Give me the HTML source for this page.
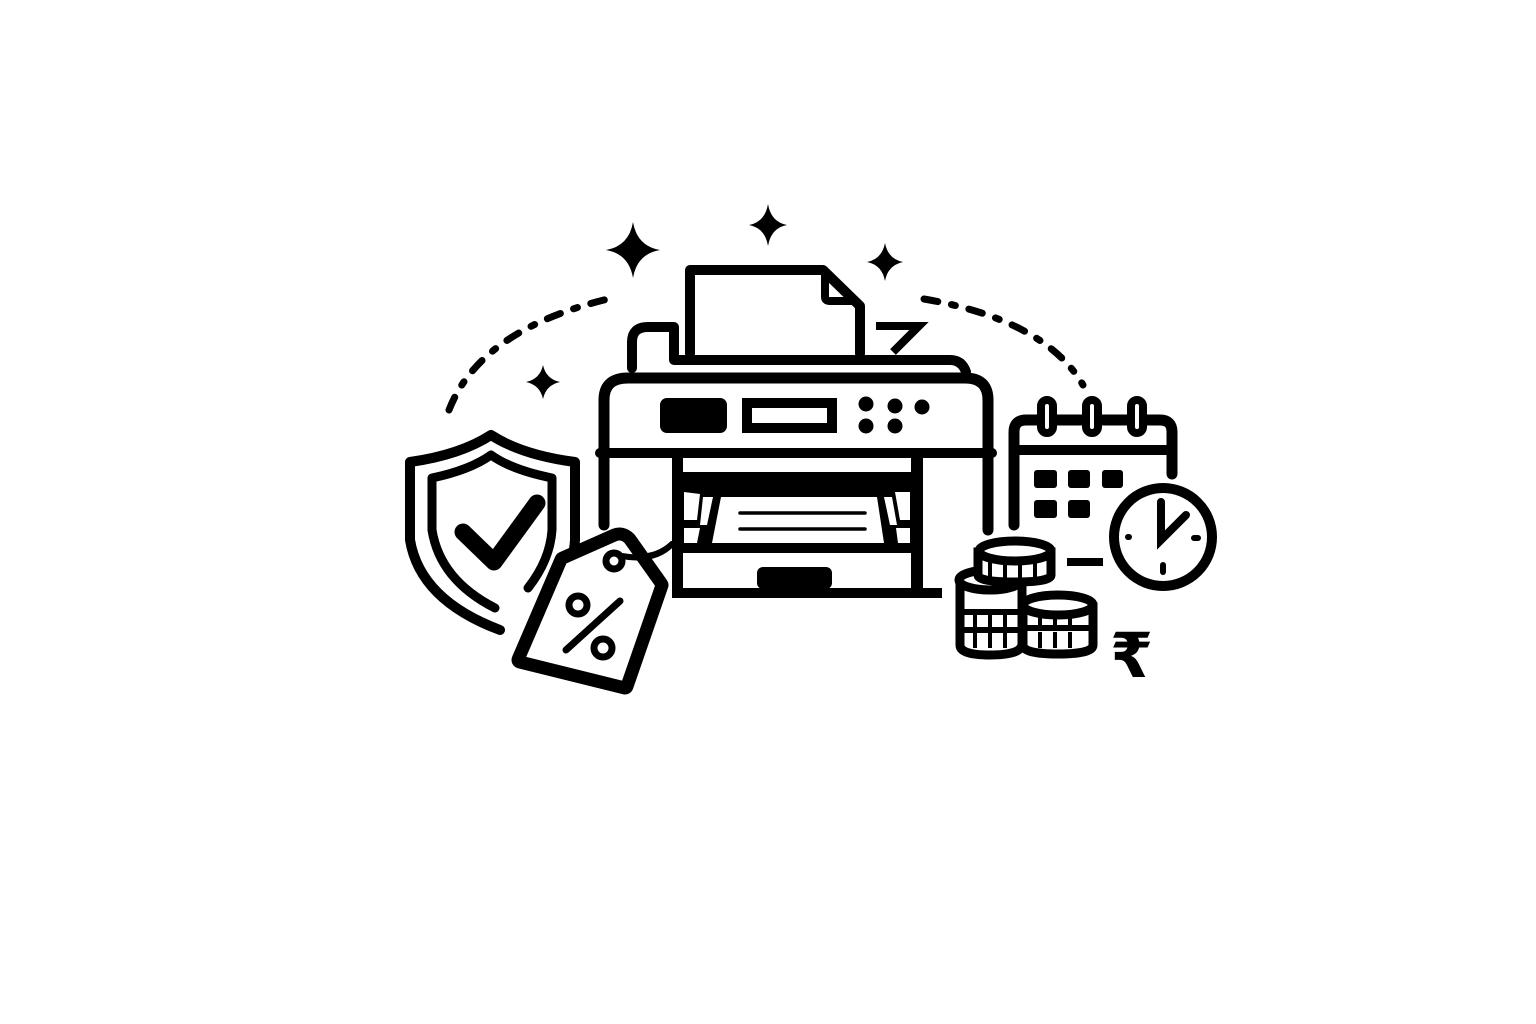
<!DOCTYPE html>
<html><head><meta charset="utf-8"><style>html,body{margin:0;padding:0;background:#fff}svg{display:block}</style></head>
<body>
<svg width="1536" height="1024" viewBox="0 0 1536 1024" xmlns="http://www.w3.org/2000/svg">
<rect width="1536" height="1024" fill="#fff"/>
<g fill="none" stroke="#000" stroke-linecap="round" stroke-linejoin="round">
<path d="M449 410 Q480 330 608 299" stroke-width="7" stroke-dasharray="14 14 4 14"/>
<path d="M924 299 Q1045 320 1083 385" stroke-width="7" stroke-dasharray="14 14 4 14"/>
<path d="M690 354 V270 H823 L860 306 V354" stroke-width="10"/>
<path d="M825 272 V297 Q825 301 830 301 H855" stroke-width="8"/>
<path d="M876 326 H919 L893 352" stroke-width="8" stroke-linejoin="miter" stroke-linecap="butt"/>
<path d="M632 368 V342 Q632 327 648 327 H674 V360 H950 Q962 360 966 372" stroke-width="10"/>
<path d="M604 525 V400 Q604 378 628 378 H965 Q988 378 988 400 V530" stroke-width="11"/>
<line x1="600" y1="453" x2="992" y2="453" stroke-width="10"/>
</g>
<rect x="660" y="398" width="67" height="35" rx="7" fill="#000"/>
<rect x="747" y="403" width="85" height="25" fill="none" stroke="#000" stroke-width="10"/>
<g fill="#000">
<circle cx="866" cy="404" r="7.5"/><circle cx="895" cy="406" r="7.5"/><circle cx="922" cy="407" r="7.5"/>
<circle cx="866" cy="426" r="7.5"/><circle cx="895" cy="426" r="7.5"/>
<rect x="672" y="458" width="11" height="140"/>
<rect x="911" y="458" width="12" height="140"/>
<rect x="672" y="588" width="270" height="10"/>
<rect x="683" y="472" width="228" height="81"/>
<rect x="757" y="567" width="75" height="22" rx="6"/>
</g>
<polygon points="721,497 877,497 884,543 712,543" fill="#fff"/>
<polygon points="684,492 700,494 697,520 684,520" fill="#fff"/>
<polygon points="703,497 713,497 707,525 700,525" fill="#fff"/>
<polygon points="884,497 892,497 897,525 890,525" fill="#fff"/>
<polygon points="895,492 910,492 910,520 900,520" fill="#fff"/>
<polygon points="684,528 700,528 697,543 684,543" fill="#fff"/>
<polygon points="896,528 910,528 910,543 898,543" fill="#fff"/>
<g stroke="#000" stroke-width="3.5" stroke-linecap="round"><line x1="740" y1="513" x2="865" y2="513"/><line x1="740" y1="529" x2="865" y2="529"/></g>
<g fill="#000">
<path d="M633 222 Q637 246 660 250 Q637 254 633 278 Q629 254 606 250 Q629 246 633 222Z"/>
<path d="M768 204 Q771 222 787 225 Q771 228 768 246 Q765 228 749 225 Q765 222 768 204Z"/>
<path d="M885 243 Q888 259 903 262 Q888 265 885 281 Q882 265 867 262 Q882 259 885 243Z"/>
<path d="M543 365 Q546 379 560 382 Q546 385 543 399 Q540 385 526 382 Q540 379 543 365Z"/>
</g>
<g fill="none" stroke="#000" stroke-linecap="round" stroke-linejoin="round">
<path d="M500 630 Q420 600 410 540 V462 Q460 455 491 435 Q522 455 575 462 V540 Q572 585 540 612" stroke-width="10"/>
<path d="M495 608 Q440 580 432 530 V478 Q470 470 491 455 Q512 470 552 478 V530 Q550 560 528 588" stroke-width="9"/>
<path d="M463 532 L494 562 L537 503" stroke-width="17"/>
<path d="M627 556 Q655 560 672 544" stroke-width="6"/>
</g>
<path d="M520 660 L625 686 L660 585 L628 540 Q622 534 615 537 L563 560 Z" fill="#fff" stroke="#000" stroke-width="17" stroke-linejoin="round"/>
<path d="M520 660 L625 686 L660 585 L628 540 Q622 534 615 537 L563 560 Z" fill="#fff" stroke="#000" stroke-width="9" stroke-linejoin="round"/>
<g fill="none" stroke="#000" stroke-linecap="round" stroke-linejoin="round">
<path d="M520 660 L625 686 L660 585 L628 540 Q622 534 615 537 L563 560 Z" stroke="#fff" stroke-width="0"/>
<circle cx="614" cy="561" r="8" stroke-width="7"/>
<path d="M622 556 Q655 562 672 544" stroke-width="6"/>
<circle cx="578" cy="605" r="9" stroke-width="7"/>
<circle cx="603" cy="648" r="9" stroke-width="7"/>
<line x1="566" y1="650" x2="620" y2="601" stroke-width="7"/>
<path d="M1014 525 V432 Q1014 420 1026 420 H1160 Q1172 420 1172 432 V474" stroke-width="11"/>
<line x1="1014" y1="450" x2="1172" y2="450" stroke-width="10"/>
</g>
<g fill="#fff" stroke="#000" stroke-width="8">
<rect x="1041" y="400" width="12" height="33" rx="6"/>
<rect x="1086" y="400" width="12" height="33" rx="6"/>
<rect x="1131" y="400" width="12" height="33" rx="6"/>
</g>
<g fill="#000">
<rect x="1034" y="470" width="23" height="18" rx="3"/><rect x="1068" y="470" width="22" height="18" rx="3"/><rect x="1102" y="470" width="21" height="18" rx="3"/>
<rect x="1034" y="500" width="23" height="18" rx="3"/><rect x="1068" y="500" width="22" height="18" rx="3"/>
<rect x="1067" y="558" width="36" height="8"/>
</g>
<circle cx="1163" cy="537" r="49" fill="#fff" stroke="#000" stroke-width="10"/>
<g stroke="#000" stroke-linecap="round" fill="none">
<path d="M1161 502 V540 L1186 515" stroke-width="8"/>
<line x1="1128" y1="537" x2="1129" y2="537" stroke-width="6"/>
<line x1="1194" y1="538" x2="1198" y2="538" stroke-width="6"/>
<line x1="1163" y1="565" x2="1163" y2="572" stroke-width="6"/>
</g>
<g fill="#fff" stroke="#000" stroke-width="9">
<path d="M960 582 V645 Q960 655 990 655 Q1020 655 1022 645 V582 Z"/>
<ellipse cx="990" cy="580" rx="31" ry="10"/>
<path d="M978 552 V575 Q978 582 1015 582 Q1051 582 1051 575 V552 Z"/>
<ellipse cx="1015" cy="551" rx="36" ry="10"/>
<path d="M1023 607 V645 Q1023 654 1058 654 Q1093 654 1093 645 V607 Z"/>
<ellipse cx="1058" cy="605" rx="35" ry="10"/>
</g>
<g stroke="#000" stroke-width="6" fill="none">
<line x1="962" y1="612" x2="1020" y2="612"/><line x1="962" y1="630" x2="1020" y2="630"/>
<line x1="1025" y1="628" x2="1091" y2="628"/>
</g>
<g stroke="#000" stroke-width="4">
<line x1="990" y1="560" x2="990" y2="578"/><line x1="1005" y1="562" x2="1005" y2="580"/><line x1="1020" y1="562" x2="1020" y2="580"/><line x1="1035" y1="561" x2="1035" y2="579"/>
<line x1="975" y1="615" x2="975" y2="628"/><line x1="990" y1="615" x2="990" y2="628"/><line x1="1005" y1="615" x2="1005" y2="628"/>
<line x1="975" y1="633" x2="975" y2="648"/><line x1="990" y1="633" x2="990" y2="648"/><line x1="1005" y1="633" x2="1005" y2="648"/>
<line x1="1040" y1="613" x2="1040" y2="626"/><line x1="1055" y1="613" x2="1055" y2="626"/><line x1="1070" y1="613" x2="1070" y2="626"/>
<line x1="1040" y1="632" x2="1040" y2="648"/><line x1="1055" y1="632" x2="1055" y2="648"/><line x1="1070" y1="632" x2="1070" y2="648"/>
</g>
<text x="1110" y="677" font-family="DejaVu Sans, sans-serif" font-size="62" font-weight="bold" fill="#000">₹</text>
</svg>
</body></html>
